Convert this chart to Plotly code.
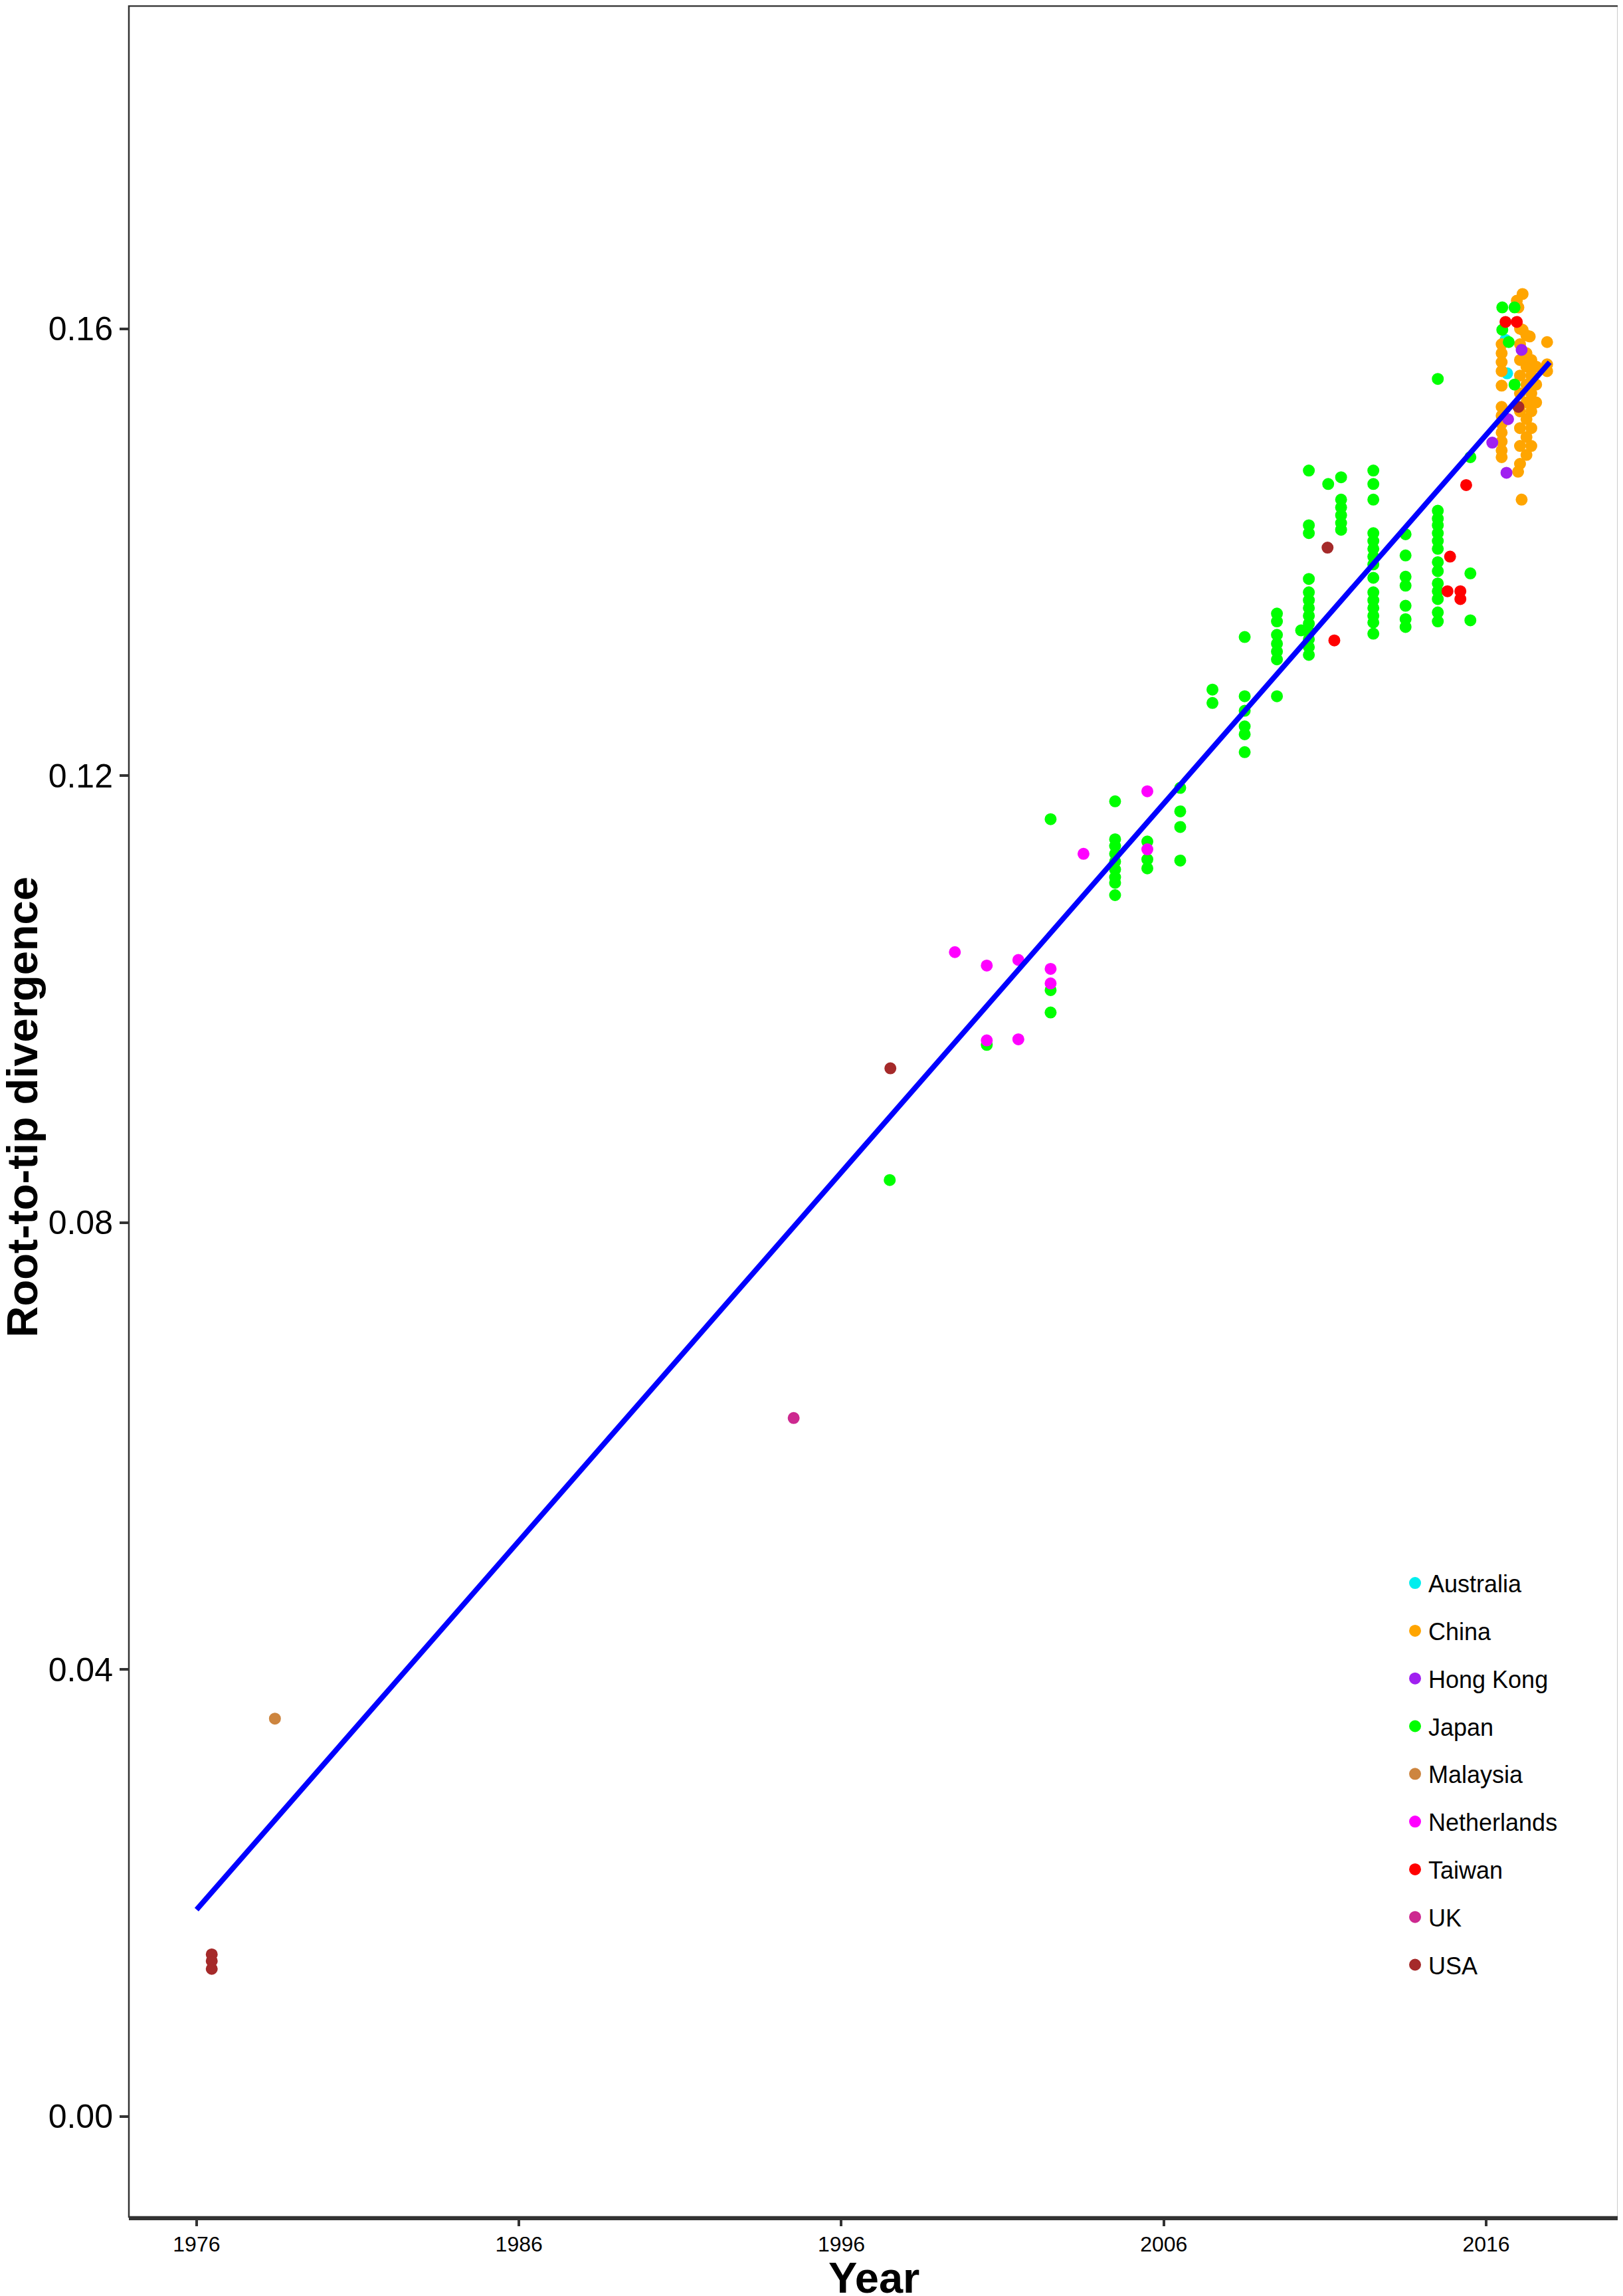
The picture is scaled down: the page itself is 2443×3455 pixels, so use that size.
import plotly.graph_objects as go

"""
Root-to-tip divergence vs sampling year, coloured by country
"""

countries = ['Australia', 'China', 'Hong Kong', 'Japan', 'Malaysia',
             'Netherlands', 'Taiwan', 'UK', 'USA']
country_colors = ['#00EEEE', '#FFA500', '#A020F0', '#00FF00', '#CD853F',
                  '#FF00FF', '#FF0000', '#CD2990', '#A52A2A']

australia_years = [2016.6, 2016.65]
australia_div = [0.1590, 0.1560]

china_years = ([2016.48] * 12
               + [2017.13, 2016.95, 2017.0, 2017.13, 2017.35]
               + [2017.05] * 9
               + [2017.25] * 8
               + [2017.4] * 6
               + [2017.55] * 3
               + [2017.89, 2017.89, 2017.89, 2017.1, 2016.99])
china_div = ([0.1586, 0.1578, 0.1570, 0.1562, 0.1549, 0.1530, 0.1522, 0.1515,
              0.1507, 0.1499, 0.1491, 0.1485]
             + [0.1631, 0.1625, 0.1619, 0.1599, 0.1593]
             + [0.1600, 0.1586, 0.1572, 0.1558, 0.1542, 0.1526, 0.1511, 0.1495, 0.1479]
             + [0.1594, 0.1578, 0.1566, 0.1550, 0.1534, 0.1519, 0.1503, 0.1487]
             + [0.1572, 0.1558, 0.1542, 0.1526, 0.1511, 0.1495]
             + [0.1566, 0.1550, 0.1534]
             + [0.1588, 0.1568, 0.1562, 0.1447, 0.1472])

hongkong_years = [2016.19, 2016.63, 2016.68, 2017.1]
hongkong_div = [0.1498, 0.1471, 0.1519, 0.1581]

japan_years = ([1997.5, 2000.51]
               + [2002.49] * 3
               + [2004.49] * 9
               + [2005.49] * 3
               + [2006.51] * 4
               + [2007.51] * 2
               + [2008.51] * 6
               + [2009.51] * 7
               + [2010.26]
               + [2010.5] * 13
               + [2011.1]
               + [2011.5] * 6
               + [2012.5] * 15
               + [2013.5] * 7
               + [2014.5] * 14
               + [2015.51] * 3
               + [2016.5, 2016.5, 2016.88, 2016.88, 2016.7])
japan_div = ([0.0838, 0.0959]
             + [0.1161, 0.1008, 0.0988]
             + [0.1177, 0.1143, 0.1137, 0.1130, 0.1123, 0.1116, 0.1109, 0.1104, 0.1093]
             + [0.1141, 0.1125, 0.1117]
             + [0.1189, 0.1168, 0.1154, 0.1124]
             + [0.1277, 0.1265]
             + [0.1324, 0.1271, 0.1258, 0.1244, 0.1237, 0.1221]
             + [0.1345, 0.1338, 0.1326, 0.1318, 0.1311, 0.1304, 0.1271]
             + [0.1330]
             + [0.1473, 0.1424, 0.1417, 0.1376, 0.1364, 0.1357, 0.1350, 0.1343,
                0.1336, 0.1329, 0.1322, 0.1315, 0.1308]
             + [0.1461]
             + [0.1467, 0.1447, 0.1440, 0.1433, 0.1426, 0.1420]
             + [0.1473, 0.1461, 0.1447, 0.1417, 0.1410, 0.1403, 0.1396, 0.1389,
                0.1377, 0.1364, 0.1357, 0.1350, 0.1343, 0.1337, 0.1327]
             + [0.1416, 0.1397, 0.1378, 0.1370, 0.1352, 0.1340, 0.1333]
             + [0.1555, 0.1437, 0.1430, 0.1424, 0.1417, 0.1410, 0.1403, 0.1391,
                0.1383, 0.1372, 0.1365, 0.1358, 0.1346, 0.1338]
             + [0.1485, 0.1381, 0.1339]
             + [0.1619, 0.1599, 0.1619, 0.1550, 0.1588])

malaysia_years = [1978.43]
malaysia_div = [0.0356]

netherlands_years = [1999.52, 2000.51, 2000.51, 2001.49, 2001.49,
                     2002.49, 2002.49, 2003.51, 2005.49, 2005.49]
netherlands_div = [0.1042, 0.1030, 0.0963, 0.1035, 0.0964,
                   0.1027, 0.1014, 0.1130, 0.1186, 0.1134]

taiwan_years = [2011.29, 2014.88, 2014.8, 2015.2, 2015.2, 2015.38, 2016.6, 2016.95]
taiwan_div = [0.1321, 0.1396, 0.1365, 0.1365, 0.1358, 0.1460, 0.1606, 0.1606]

uk_years = [1994.52]
uk_div = [0.0625]

usa_years = [1976.47, 1976.47, 1976.47, 1997.52, 2011.08, 2017.0]
usa_div = [0.0145, 0.0139, 0.0132, 0.0938, 0.1404, 0.1530]

# regression line as drawn in the figure (end points)
fit_years = [1976.0, 2017.97]
fit_div = [0.0185, 0.1570]

x_ticks = [1976, 1986, 1996, 2006, 2016]
y_ticks = [0.00, 0.04, 0.08, 0.12, 0.16]
y_tick_labels = ['0.00', '0.04', '0.08', '0.12', '0.16']

FONT = 'Liberation Sans, Arial, Helvetica, sans-serif'


def create_root_to_tip_plot():
    series = [
        (australia_years, australia_div),
        (china_years, china_div),
        (hongkong_years, hongkong_div),
        (japan_years, japan_div),
        (malaysia_years, malaysia_div),
        (netherlands_years, netherlands_div),
        (taiwan_years, taiwan_div),
        (uk_years, uk_div),
        (usa_years, usa_div),
    ]

    fig = go.Figure()

    for name, color, (xs, ys) in zip(countries, country_colors, series):
        fig.add_trace(go.Scatter(
            x=xs,
            y=ys,
            mode='markers',
            name=name,
            legendgroup=name,
            # outline in the fill colour so the legend swatch grows too
            marker=dict(size=16, color=color, line=dict(width=2, color=color)),
            hovertemplate=name + "<br>Year: %{x:.2f}<br>Divergence: %{y:.4f}<extra></extra>"
        ))

    fig.add_trace(go.Scatter(
        x=fit_years,
        y=fit_div,
        mode='lines',
        name='Fit',
        line=dict(color='#0000FF', width=8),
        showlegend=False,
        hoverinfo='skip'
    ))

    # the page body adds an 8px offset, margins compensate for it
    fig.update_layout(
        width=2443,
        height=3455,
        margin=dict(l=186, r=15, t=1, b=127),
        plot_bgcolor='white',
        paper_bgcolor='white',
        font=dict(family=FONT, color='black'),
        showlegend=True,
        legend=dict(
            x=0.8546,
            y=0.2957,
            xanchor='left',
            yanchor='top',
            font=dict(size=36, family=FONT, color='black'),
            bgcolor='rgba(255,255,255,0)',
            tracegroupgap=22,
            itemsizing='trace'
        )
    )

    fig.update_xaxes(
        range=[1973.9, 2020.1],
        tickvals=x_ticks,
        ticks='outside',
        ticklen=9,
        tickwidth=4,
        tickcolor='#333333',
        tickfont=dict(size=32, family=FONT, color='black'),
        showline=True,
        linewidth=5,
        linecolor='#333333',
        showgrid=False,
        zeroline=False
    )
    fig.update_yaxes(
        range=[-0.009, 0.18888],
        tickvals=y_ticks,
        ticktext=y_tick_labels,
        ticks='outside',
        ticklen=13,
        tickwidth=4,
        tickcolor='#333333',
        tickfont=dict(size=50, family=FONT, color='black'),
        showline=False,
        showgrid=False,
        zeroline=False
    )

    # panel border
    fig.add_shape(
        type='rect', xref='paper', yref='paper',
        x0=0, y0=0, x1=1, y1=1,
        line=dict(color='#333333', width=2.5),
        fillcolor='rgba(0,0,0,0)',
        layer='above'
    )

    fig.add_annotation(
        text='<b>Root-to-tip divergence</b>',
        xref='paper', yref='paper',
        x=0, y=0.5,
        xanchor='center', yanchor='middle',
        xshift=-161, yshift=6,
        textangle=-90,
        showarrow=False,
        font=dict(size=65, family=FONT, color='black')
    )
    fig.add_annotation(
        text='<b>Year</b>',
        xref='paper', yref='paper',
        x=0.5, y=0,
        xanchor='center', yanchor='middle',
        yshift=-91,
        showarrow=False,
        font=dict(size=65, family=FONT, color='black')
    )

    fig.write_html("out.html")


if __name__ == "__main__":
    create_root_to_tip_plot()
